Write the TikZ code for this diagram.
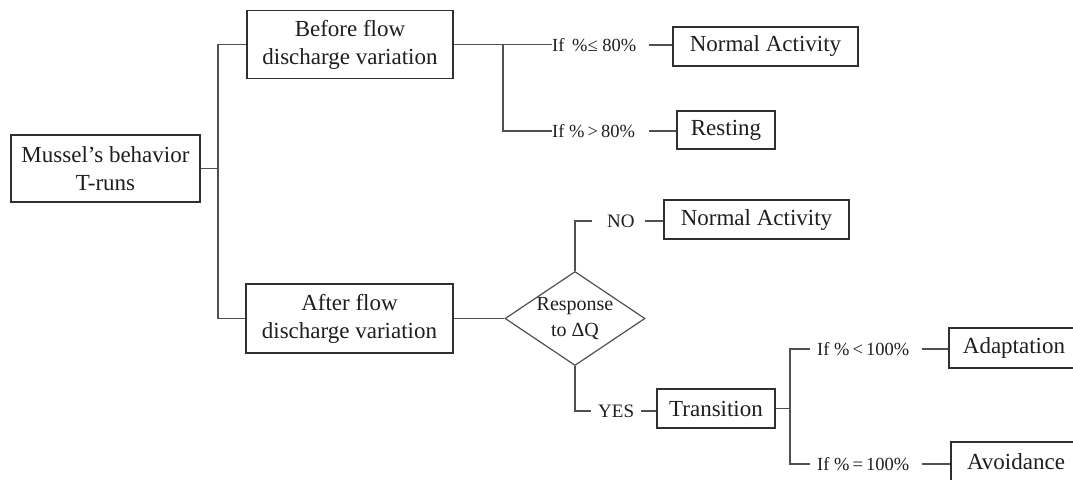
\documentclass[tikz,border=0pt]{standalone}
\usepackage{fontspec}
\setmainfont{Liberation Serif}
\usetikzlibrary{shapes.geometric,calc}
\definecolor{boxline}{HTML}{303030}
\definecolor{conn}{HTML}{505050}
\definecolor{txt}{HTML}{1E1E1E}
\begin{document}
\begin{tikzpicture}[x=1pt,y=-1pt,
  boxnode/.style={draw=boxline, line width=1.4pt, inner sep=0pt, align=center, text=txt,
    font=\fontsize{23}{28}\selectfont},
  condlabel/.style={inner sep=0pt, anchor=west, text=txt, font=\fontsize{18.5}{22}\selectfont},
  smalllabel/.style={condlabel, font=\fontsize{19}{22}\selectfont},
  connector/.style={draw=conn, line width=1.3pt},
  decision/.style={diamond, draw=conn, line width=1.2pt, inner sep=0pt, minimum width=140pt, minimum height=94pt}
]
\useasboundingbox (0,0) rectangle (1073,479);
\clip (0,0) rectangle (1073,479);

% boxes
\node[boxnode, minimum width=189pt, minimum height=67pt] (mussel) at (105.5,168.5) {Mussel’s behavior\\T-runs};
\node[boxnode, minimum width=206pt, minimum height=68pt] (before) at (350,44.5) {Before flow\\discharge variation};
\node[boxnode, minimum width=207pt, minimum height=69pt] (after) at (349.5,318.5) {After flow\\discharge variation};
\node[boxnode, minimum width=185pt, minimum height=39pt] (na1) at (765.5,46.5) {Normal Activity};
\node[boxnode, minimum width=98pt, minimum height=38pt] (rest) at (726,130) {Resting};
\node[decision, label={[align=center, text=txt, font=\fontsize{20}{26}\selectfont]center:Response\\to ΔQ}] (dq) at (575,318.5) {};
\node[boxnode, minimum width=185pt, minimum height=39pt] (na2) at (756.5,219.5) {Normal Activity};
\node[boxnode, minimum width=118pt, minimum height=39pt] (trans) at (716,408.5) {Transition};
\node[boxnode, minimum width=130pt, minimum height=40pt] (adapt) at (1014,348) {Adaptation};
\node[boxnode, minimum width=130pt, minimum height=40pt] (avoid) at (1016,462) {Avoidance};

% condition labels
\node[condlabel] (l1) at (552,45) {If \,\%≤ 80\%};
\node[condlabel] (l2) at (552,131) {If \%\,>\,80\%};
\node[smalllabel] (no) at (607,221) {NO};
\node[smalllabel] (yes) at (598,411) {YES};
\node[condlabel] (l3) at (817,349) {If \%\,<\,100\%};
\node[condlabel] (l4) at (817,464) {If \%\,=\,100\%};

% junctions
\coordinate (j1) at (218,168.5);
\coordinate (j2) at (503,44.5);
\coordinate (j3) at (790,408.5);

% connectors
\draw[connector] (mussel.east) -- (j1);
\draw[connector] (before.west) -| (j1) |- (after.west);
\draw[connector] (before.east) -- (before.east -| l1.west);
\draw[connector] (j2) |- (l2.west);
\draw[connector] ([xshift=12pt]l1.east) -- (l1.east -| na1.west);
\draw[connector] ([xshift=14pt]l2.east) -- (l2.east -| rest.west);
\draw[connector] (after.east) -- (dq.west);
\draw[connector] (dq.north) |- ([xshift=-15pt]no.west);
\draw[connector] ([xshift=10pt]no.east) -- (no.east -| na2.west);
\draw[connector] (dq.south) |- ([xshift=-7pt]yes.west);
\draw[connector] ([xshift=7pt]yes.east) -- (yes.east -| trans.west);
\draw[connector] (trans.east) -- (j3);
\draw[connector] ([xshift=-7pt]l3.west) -| (j3) |- ([xshift=-7pt]l4.west);
\draw[connector] ([xshift=12pt]l3.east) -- (l3.east -| adapt.west);
\draw[connector] ([xshift=12pt]l4.east) -- (l4.east -| avoid.west);
\end{tikzpicture}
\end{document}
